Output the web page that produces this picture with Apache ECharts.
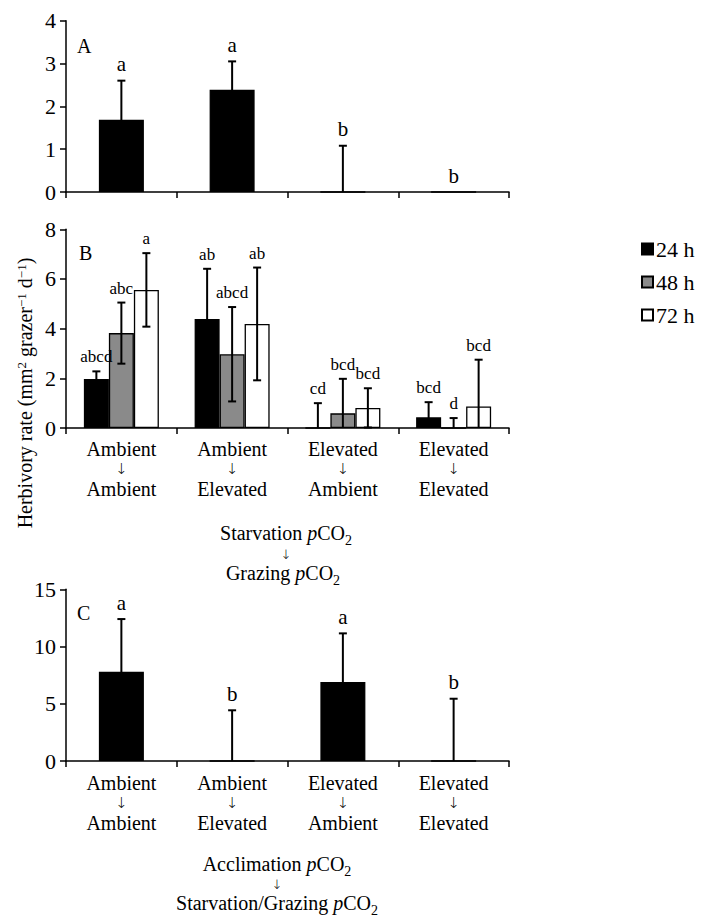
<!DOCTYPE html>
<html>
<head>
<meta charset="utf-8">
<script src="https://cdn.jsdelivr.net/npm/echarts@6/dist/echarts.min.js"></script>
<style>
html,body{margin:0;padding:0;background:#fff;}
#chart{width:714px;height:919px;}
</style>
</head>
<body>
<div id="chart"></div>
<script>
// ---------- DATA ----------
const categories = ['Ambient\n↓\nAmbient', 'Ambient\n↓\nElevated', 'Elevated\n↓\nAmbient', 'Elevated\n↓\nElevated'];

// Panel A
const aValues = [1.69, 2.39, 0, 0];
const aErrors = [0.91, 0.66, 1.08, 0];
const aLetters = ['a', 'a', 'b', 'b'];

// Panel B
const seriesNames = ['24 h', '48 h', '72 h'];
const b24 = [1.97, 4.39, 0, 0.43];
const b24Err = [0.31, 2.02, 1.0, 0.61];
const b24Letters = ['abcd', 'ab', 'cd', 'bcd'];
const b48 = [3.82, 2.97, 0.59, 0];
const b48Err = [1.23, 1.9, 1.39, 0.4];
const b48Letters = ['abc', 'abcd', 'bcd', 'd'];
const b72 = [5.56, 4.19, 0.81, 0.87];
const b72Err = [1.48, 2.27, 0.79, 1.88];
const b72Letters = ['a', 'ab', 'bcd', 'bcd'];

// Panel C
const cValues = [7.8, 0, 6.9, 0];
const cErrors = [4.6, 4.43, 4.25, 5.44];
const cLetters = ['a', 'b', 'a', 'b'];

// Axis ticks
const aTicks = {min: 0, max: 4, interval: 1};
const bTicks = {min: 0, max: 8, interval: 2};
const cTicks = {min: 0, max: 15, interval: 5};

// ---------- CHART ----------
const FONT = '"Liberation Serif", "Times New Roman", serif';
const ARROWFONT = '"DejaVu Sans", "DejaVu Serif", sans-serif';
const chart = echarts.init(document.getElementById('chart'), null, {renderer: 'svg'});

function errRender(values, errors, letters, offset, fontSize) {
  return function (params, api) {
    const i = params.dataIndex;
    const v = values[i], e = errors[i];
    const top = api.coord([i, v + e]);
    const x = top[0] + offset;
    const children = [];
    const ls = {stroke: '#000', lineWidth: 2};
    if (e > 0) {
      const lowVal = Math.max(0, v - e);
      const low = api.coord([i, lowVal]);
      children.push({type: 'line', shape: {x1: x, y1: top[1], x2: x, y2: low[1]}, style: ls});
      children.push({type: 'line', shape: {x1: x - 4, y1: top[1], x2: x + 4, y2: top[1]}, style: ls});
      if (v - e > 0) {
        children.push({type: 'line', shape: {x1: x - 4, y1: low[1], x2: x + 4, y2: low[1]}, style: ls});
      }
    }
    children.push({
      type: 'text',
      style: {
        text: letters[i], x: x, y: top[1] - 6,
        align: 'center', verticalAlign: 'bottom',
        textAlign: 'center', textVerticalAlign: 'bottom',
        fontSize: fontSize, fontFamily: FONT, fill: '#000'
      }
    });
    return {type: 'group', children: children};
  };
}

function idx(arr) { return arr.map((v, i) => [i, v]); }

const grids = [
  {left: 66, width: 443, top: 20.7, height: 171.3},
  {left: 66, width: 443, top: 229.3, height: 198.7},
  {left: 66, width: 443, top: 589.3, height: 171.7}
];

const catRich = {
  t: {fontFamily: FONT, fontSize: 20, lineHeight: 20, color: '#000'},
  r: {fontFamily: ARROWFONT, fontSize: 15, fontWeight: 300, lineHeight: 20, color: '#000'}
};
function catFormatter(value) {
  const parts = value.split('\n');
  return parts.map((p) => p === '↓' ? '{r|↓}' : '{t|' + p + '}').join('\n');
}

function xAxisCfg(gi, showLabel, margin) {
  return {
    type: 'category', gridIndex: gi, data: categories,
    axisLine: {lineStyle: {color: '#000', width: 1.5}},
    axisTick: {show: true, length: 6, lineStyle: {color: '#000', width: 1.5}},
    axisLabel: {show: showLabel, formatter: catFormatter, rich: catRich, margin: margin, interval: 0}
  };
}
function yAxisCfg(gi, t) {
  return {
    type: 'value', gridIndex: gi, min: t.min, max: t.max, interval: t.interval,
    splitLine: {show: false},
    axisLine: {show: true, lineStyle: {color: '#000', width: 1.5}},
    axisTick: {show: true, length: 6, lineStyle: {color: '#000', width: 1.5}},
    axisLabel: {fontFamily: FONT, fontSize: 22, color: '#000', margin: 10}
  };
}

const barStyle = (c) => ({color: c, borderColor: '#000', borderWidth: 1.3});
const colors = ['#000000', '#8a8a8a', '#ffffff'];

const bVals = [b24, b48, b72];
const bErrs = [b24Err, b48Err, b72Err];
const bLets = [b24Letters, b48Letters, b72Letters];

const series = [];
// Panel A
series.push({type: 'bar', name: 'A', xAxisIndex: 0, yAxisIndex: 0, data: aValues, barWidth: 45, itemStyle: barStyle('#000')});
series.push({type: 'custom', name: 'A err', xAxisIndex: 0, yAxisIndex: 0, data: idx(aValues), renderItem: errRender(aValues, aErrors, aLetters, 0, 21), z: 5});
// Panel B
for (let k = 0; k < 3; k++) {
  series.push({type: 'bar', name: seriesNames[k], xAxisIndex: 1, yAxisIndex: 1, data: bVals[k], barWidth: 25, barGap: '0%', itemStyle: barStyle(colors[k])});
}
for (let k = 0; k < 3; k++) {
  series.push({type: 'custom', name: 'B err ' + k, xAxisIndex: 1, yAxisIndex: 1, data: idx(bVals[k]), renderItem: errRender(bVals[k], bErrs[k], bLets[k], (k - 1) * 25, 17), z: 5});
}
// Panel C
series.push({type: 'bar', name: 'C', xAxisIndex: 2, yAxisIndex: 2, data: cValues, barWidth: 45, itemStyle: barStyle('#000')});
series.push({type: 'custom', name: 'C err', xAxisIndex: 2, yAxisIndex: 2, data: idx(cValues), renderItem: errRender(cValues, cErrors, cLetters, 0, 21), z: 5});

// ----- text lines with italic p and subscript 2 -----
const measureCtx = document.createElement('canvas').getContext('2d');
function lineEls(cx, cy, parts) {
  const widths = parts.map((p) => {
    measureCtx.font = (p.it ? 'italic ' : '') + p.fs + 'px ' + FONT;
    return measureCtx.measureText(p.t).width;
  });
  const total = widths.reduce((a, b) => a + b, 0);
  let x = cx - total / 2;
  return parts.map((p, k) => {
    const el = {
      type: 'text', x: x, y: cy + (p.sub ? 7 : 0),
      style: {
        text: p.t, fontSize: p.fs, lineHeight: p.sub ? 12 : 18,
        fontStyle: p.it ? 'italic' : 'normal', fontFamily: FONT,
        fill: '#000', align: 'left', verticalAlign: 'middle'
      }
    };
    x += widths[k];
    return el;
  });
}
function pco2(prefix) {
  return [{t: prefix, fs: 20}, {t: 'p', fs: 20, it: true}, {t: 'CO', fs: 20}, {t: '2', fs: 14, sub: true}];
}
function arrowEl(cx, cy) {
  return {type: 'text', x: cx, y: cy, style: {text: '↓', fontFamily: ARROWFONT, fontSize: 13, fontWeight: 300, lineHeight: 10, fill: '#000', align: 'center', verticalAlign: 'middle'}};
}

const titleEls = [].concat(
  lineEls(286, 533, pco2('Starvation ')),
  [arrowEl(286, 554)],
  lineEls(283, 573, pco2('Grazing ')),
  lineEls(277, 864, pco2('Acclimation ')),
  [arrowEl(277, 884)],
  lineEls(277, 903, pco2('Starvation/Grazing '))
);

const option = {
  backgroundColor: '#ffffff',
  animation: false,
  grid: grids,
  xAxis: [xAxisCfg(0, false, 11), xAxisCfg(1, true, 11), xAxisCfg(2, true, 12)],
  yAxis: [yAxisCfg(0, aTicks), yAxisCfg(1, bTicks), yAxisCfg(2, cTicks)],
  legend: {
    data: seriesNames, orient: 'vertical', left: 636, top: 233,
    itemWidth: 11, itemHeight: 11, itemGap: 11, icon: 'rect',
    textStyle: {fontFamily: FONT, fontSize: 22, color: '#000', padding: [0, 0, 0, -2]}
  },
  series: series,
  graphic: [
    {type: 'text', left: 77, top: 36, style: {text: 'A', fontFamily: FONT, fontSize: 20, fill: '#000'}},
    {type: 'text', left: 79, top: 243, style: {text: 'B', fontFamily: FONT, fontSize: 20, fill: '#000'}},
    {type: 'text', left: 77, top: 603, style: {text: 'C', fontFamily: FONT, fontSize: 20, fill: '#000'}},
    {
      type: 'text', x: 25, y: 393, rotation: Math.PI / 2,
      style: {
        text: '{n|Herbivory rate (mm}{p|2}{n| grazer}{p|−1}{n| d}{p|−1}{n|)}',
        rich: {
          n: {fontFamily: FONT, fontSize: 20, lineHeight: 20, fill: '#000'},
          p: {fontFamily: FONT, fontSize: 13, lineHeight: 12, verticalAlign: 'top', fill: '#000'}
        },
        align: 'center', verticalAlign: 'middle', textAlign: 'center', textVerticalAlign: 'middle'
      }
    }
  ].concat(titleEls)
};
chart.setOption(option);
</script>
</body>
</html>
